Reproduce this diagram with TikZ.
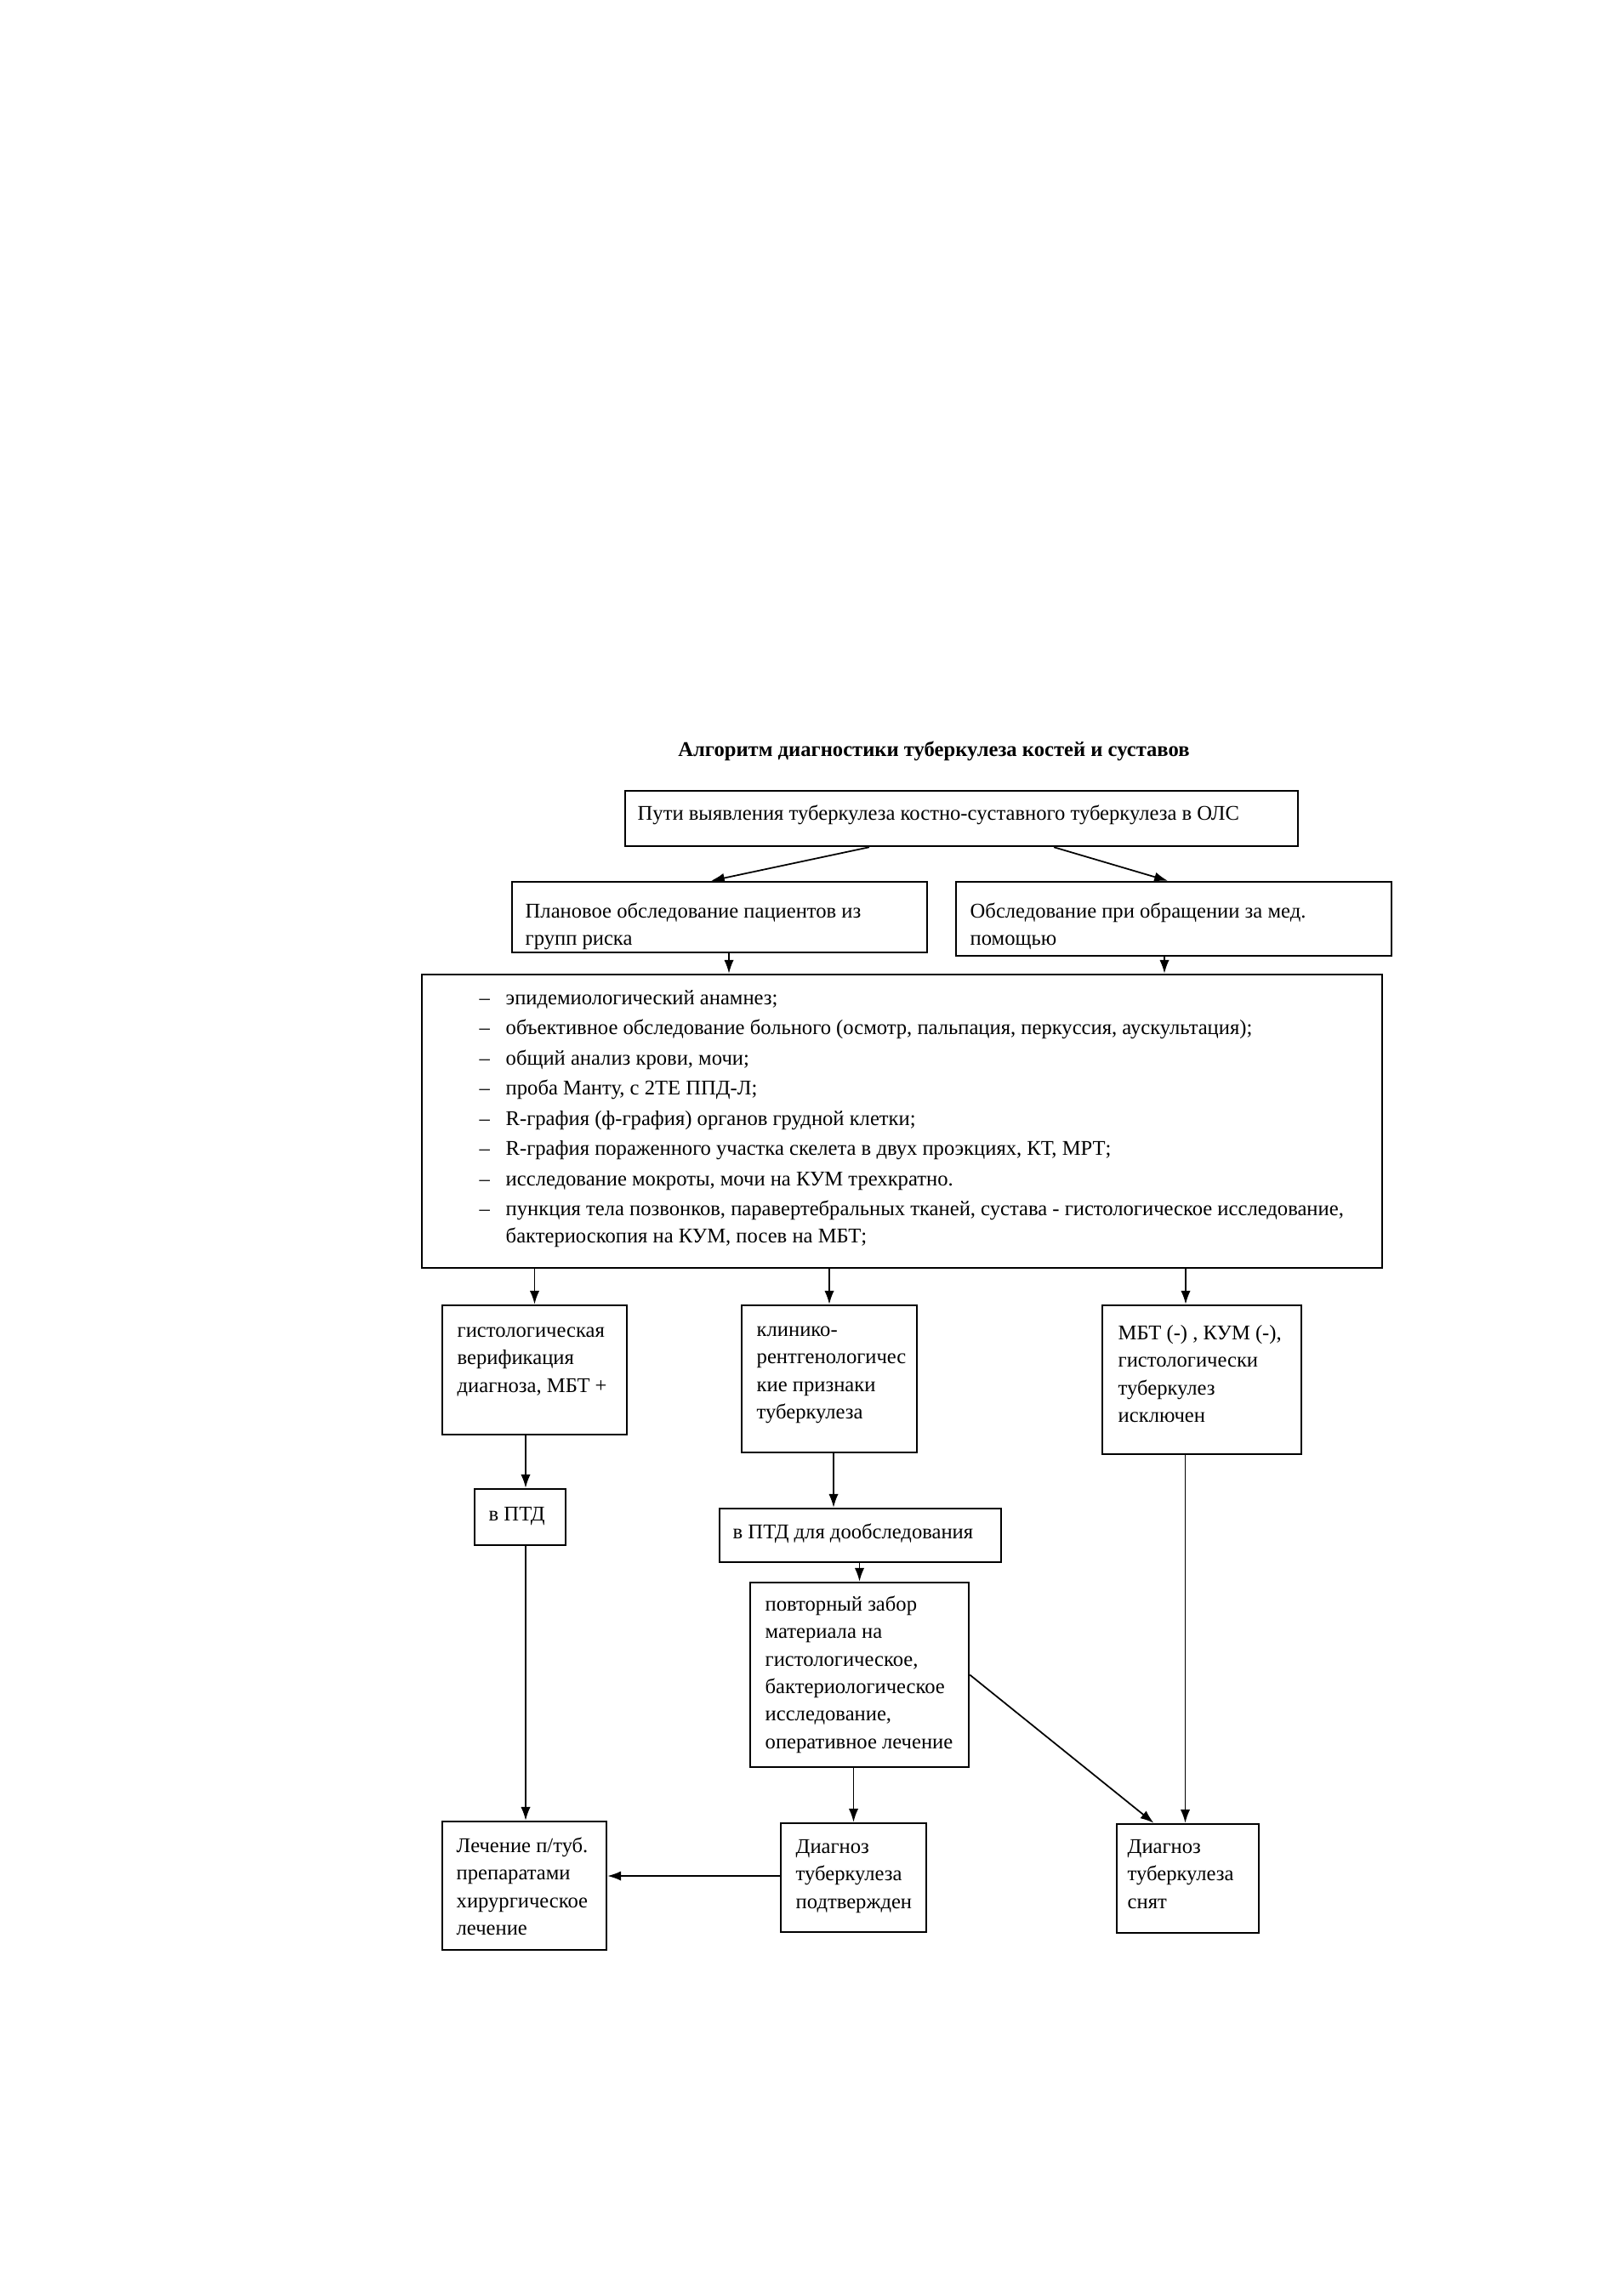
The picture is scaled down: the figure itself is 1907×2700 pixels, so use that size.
\documentclass[tikz,border=0pt]{standalone}
\usepackage{fontspec}
\setmainfont{Liberation Serif}
\usetikzlibrary{arrows.meta,fit,calc}
\newcommand{\itemdash}{\makebox[0.31cm][l]{–}}
\begin{document}
\begin{tikzpicture}[x=0.01cm,y=-0.01cm,
  box/.style={draw, line width=0.7pt, inner sep=0pt},
  txt/.style={anchor=north west, align=left, inner sep=0pt, font=\fontsize{7}{9.2}\selectfont},
  arr/.style={line width=0.5pt, -{Latex[length=4.5pt,width=3.2pt]}}]
\useasboundingbox (0,0) rectangle (1907,2700);
\fill[white] (0,0) rectangle (1907,2700);

\node[font=\bfseries\fontsize{7}{9}\selectfont, anchor=base, inner sep=0pt] (title) at (1098,889) {Алгоритм диагностики туберкулеза костей и суставов};

% boxes
\node[box, fit={(735,930) (1526,995)}] (top) {};
\node[box, fit={(602,1037) (1090,1120)}] (A) {};
\node[box, fit={(1124,1037) (1636,1124)}] (B) {};
\node[box, fit={(496,1146) (1625,1491)}] (big) {};
\node[box, fit={(520,1535) (737,1687)}] (C) {};
\node[box, fit={(872,1535) (1078,1708)}] (D) {};
\node[box, fit={(1296,1535) (1530,1710)}] (E) {};
\node[box, fit={(558,1751) (665,1817)}] (F) {};
\node[box, fit={(846,1774) (1177,1837)}] (G) {};
\node[box, fit={(882,1861) (1139,2078)}] (H) {};
\node[box, fit={(520,2142) (713,2293)}] (I) {};
\node[box, fit={(918,2144) (1089,2272)}] (J) {};
\node[box, fit={(1313,2145) (1480,2273)}] (K) {};

% texts
\node[txt] (toptxt) at (749,941) {\strut Пути выявления туберкулеза костно-суставного туберкулеза в ОЛС};
\node[txt] (Atxt) at (617,1056) {\strut Плановое обследование пациентов из\\групп риска};
\node[txt] (Btxt) at (1140,1056) {\strut Обследование при обращении за мед.\\помощью};
\node[txt, font=\fontsize{7}{9.1}\selectfont] (bigtxt) at (563,1158) {%
\strut\itemdash эпидемиологический анамнез;\\[1pt]
\itemdash объективное обследование больного (осмотр, пальпация, перкуссия, аускультация);\\[1pt]
\itemdash общий анализ крови, мочи;\\[1pt]
\itemdash проба Манту, с 2ТЕ ППД-Л;\\[1pt]
\itemdash R-графия (ф-графия) органов грудной клетки;\\[1pt]
\itemdash R-графия пораженного участка скелета в двух проэкциях, КТ, МРТ;\\[1pt]
\itemdash исследование мокроты, мочи на КУМ трехкратно.\\[1pt]
\itemdash пункция тела позвонков, паравертебральных тканей, сустава - гистологическое исследование,\\
\hspace*{0.31cm}бактериоскопия на КУМ, посев на МБТ;};
\node[txt] (Ctxt) at (537,1549) {\strut гистологическая\\верификация\\диагноза, МБТ +};
\node[txt] (Dtxt) at (889,1548) {\strut клинико-\\рентгенологичес\\кие признаки\\туберкулеза};
\node[txt] (Etxt) at (1314,1552) {\strut МБТ (-) , КУМ (-),\\гистологически\\туберкулез\\исключен};
\node[txt] (Ftxt) at (574,1765) {\strut в ПТД};
\node[txt] (Gtxt) at (861,1786) {\strut в ПТД для дообследования};
\node[txt] (Htxt) at (899,1871) {\strut повторный забор\\материала на\\гистологическое,\\бактериологическое\\исследование,\\оперативное лечение};
\node[txt] (Itxt) at (536,2155) {\strut Лечение п/туб.\\препаратами\\хирургическое\\лечение};
\node[txt] (Jtxt) at (935,2156) {\strut Диагноз\\туберкулеза\\подтвержден};
\node[txt] (Ktxt) at (1325,2156) {\strut Диагноз\\туберкулеза\\снят};

% connectors
\draw[arr] ([xshift=-1.085cm]top.south) -- ([xshift=-0.10cm]A.north);
\draw[arr] ([xshift=1.085cm]top.south) -- ([xshift=-0.07cm]B.north);
\draw[arr] ([xshift=0.11cm]A.south) -- ([xshift=0.11cm]A.south |- big.north);
\draw[arr] ([xshift=-0.11cm]B.south) -- ([xshift=-0.11cm]B.south |- big.north);
\draw[arr] (C.north |- big.south) -- (C.north);
\draw[arr] (D.north |- big.south) -- (D.north);
\draw[arr] ([xshift=-0.19cm]E.north |- big.south) -- ([xshift=-0.19cm]E.north);
\draw[arr] ([xshift=-0.105cm]C.south) -- ([xshift=-0.105cm]C.south |- F.north);
\draw[arr] ([xshift=0.065cm]F.south) -- ([xshift=0.065cm]F.south |- I.north);
\draw[arr] ([xshift=0.05cm]D.south) -- ([xshift=0.05cm]D.south |- G.north);
\draw[arr] (H.north |- G.south) -- (H.north);
\draw[arr] (J.north |- H.south) -- (J.north);
\draw[arr] ([yshift=0.02cm]J.west) -- ([yshift=0.02cm]J.west -| I.east);
\draw[arr] ([xshift=-0.03cm]K.north |- E.south) -- ([xshift=-0.03cm]K.north);
\draw[arr] (H.east) -- ([xshift=-0.40cm]K.north);
\end{tikzpicture}
\end{document}
